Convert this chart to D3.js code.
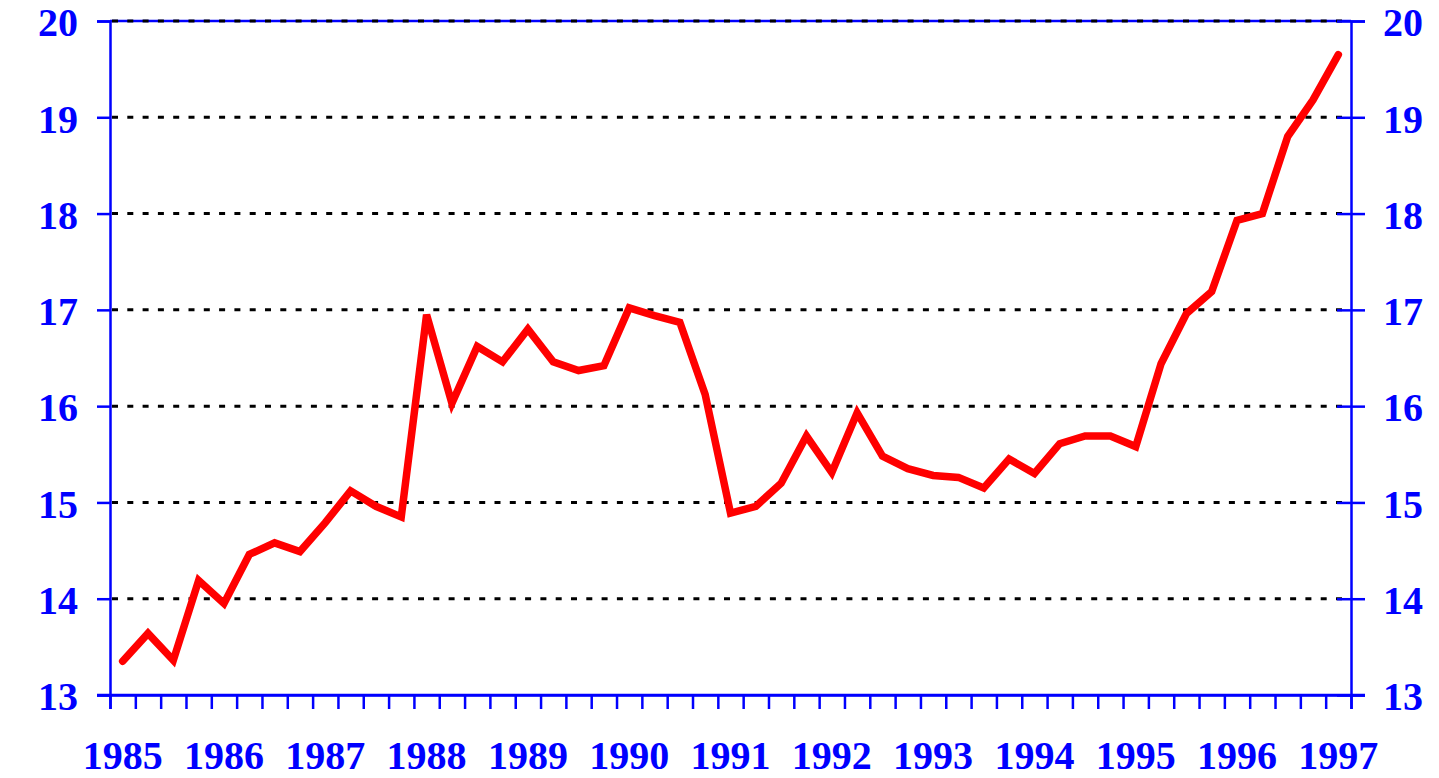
<!DOCTYPE html>
<html>
<head>
<meta charset="utf-8">
<script src="https://cdn.jsdelivr.net/npm/d3@7"></script>
<style>
  body { margin: 0; background: #fff; }
  text { font-family: "Liberation Serif", "Times New Roman", serif; font-weight: bold; }
</style>
</head>
<body>
<svg width="1439" height="778"></svg>
<script>
// years shown on the x axis, one label per year at its first quarter
const years = [1985, 1986, 1987, 1988, 1989, 1990, 1991, 1992, 1993, 1994, 1995, 1996, 1997];
// quarterly categories 1985Q1 .. 1997Q1
const quarters = years.flatMap(y => y === 1997 ? [y + "Q1"] : [y + "Q1", y + "Q2", y + "Q3", y + "Q4"]);
// values
const values = [
  13.35, 13.64, 13.36, 14.19, 13.95, 14.46, 14.58, 14.49, 14.79, 15.12, 14.96, 14.85,
  16.95, 16.03, 16.62, 16.46, 16.80, 16.46, 16.37, 16.42, 17.02, 16.94, 16.87, 16.12,
  14.89, 14.96, 15.20, 15.69, 15.31, 15.93, 15.48, 15.35, 15.28, 15.26, 15.15, 15.45,
  15.30, 15.61, 15.69, 15.69, 15.58, 16.44, 16.96, 17.19, 17.93, 18.00, 18.80, 19.18, 19.65
];
const yTicks = [13, 14, 15, 16, 17, 18, 19, 20];
const gridTicks = [14, 15, 16, 17, 18, 19, 20];

const blue = "#0000ff";
const plot = {left: 110, right: 1351, top: 21, bottom: 695};
const svg = d3.select("svg");

const x = d3.scaleBand().domain(quarters).range([plot.left, plot.right]).padding(0);
const y = d3.scaleLinear().domain([13, 20]).range([plot.bottom, plot.top]);
// band edges for the small tick marks
const xEdge = d3.scaleLinear().domain([0, quarters.length]).range([plot.left, plot.right]);

// top frame line
svg.append("line")
    .attr("x1", plot.left).attr("x2", plot.right)
    .attr("y1", y(20)).attr("y2", y(20))
    .attr("stroke", blue).attr("stroke-width", 2.5);

// dotted grid
svg.append("g")
  .selectAll("line")
  .data(gridTicks)
  .join("line")
    .attr("x1", plot.left + 2).attr("x2", plot.right)
    .attr("y1", d => y(d)).attr("y2", d => y(d))
    .attr("stroke", "#000")
    .attr("stroke-width", 3)
    .attr("stroke-dasharray", "6,9.3");

// left axis
const left = svg.append("g")
    .attr("transform", `translate(${plot.left},0)`)
    .call(d3.axisLeft(y).tickValues(yTicks).tickSizeOuter(0).tickSize(13).tickPadding(19).tickFormat(d3.format("d")));

// right axis, ticks cross the line
const right = svg.append("g")
    .attr("transform", `translate(${plot.right},0)`)
    .call(d3.axisRight(y).tickValues(yTicks).tickSizeOuter(0).tickSize(14).tickPadding(18).tickFormat(d3.format("d")));
right.selectAll(".tick line").attr("x1", -14);

// bottom axis: tick marks at quarter edges
const bottom = svg.append("g")
    .attr("transform", `translate(0,${plot.bottom})`)
    .call(d3.axisBottom(xEdge).tickValues(d3.range(quarters.length + 1)).tickSizeOuter(0).tickSize(14).tickFormat(""));

// year labels centred on the first quarter of each year
const labels = svg.append("g")
    .attr("transform", `translate(0,${plot.bottom})`)
    .call(d3.axisBottom(x).tickValues(years.map(d => d + "Q1")).tickSize(0).tickPadding(45.6).tickFormat(d => d.slice(0, 4)));
labels.select(".domain").remove();

// extend bottom line to the outer tick ends
svg.append("line")
    .attr("x1", plot.left - 13).attr("x2", plot.right + 14)
    .attr("y1", plot.bottom).attr("y2", plot.bottom)
    .attr("stroke", blue).attr("stroke-width", 2.5);

[left, right, bottom, labels].forEach(g => {
  g.selectAll("path, line").attr("stroke", blue).attr("stroke-width", 2.5);
  g.selectAll("text").attr("fill", blue).style("font-size", "40px");
  g.attr("font-family", null).attr("font-size", null);
});
left.selectAll("text").attr("dy", "0.37em");
right.selectAll("text").attr("dy", "0.37em");

// the series
const line = d3.line()
    .x((d, i) => x(quarters[i]) + x.bandwidth() / 2)
    .y(d => y(d));

svg.append("path")
    .datum(values)
    .attr("d", line)
    .attr("fill", "none")
    .attr("stroke", "#ff0000")
    .attr("stroke-width", 7.5)
    .attr("stroke-linecap", "round")
    .attr("stroke-linejoin", "miter");
</script>
</body>
</html>
